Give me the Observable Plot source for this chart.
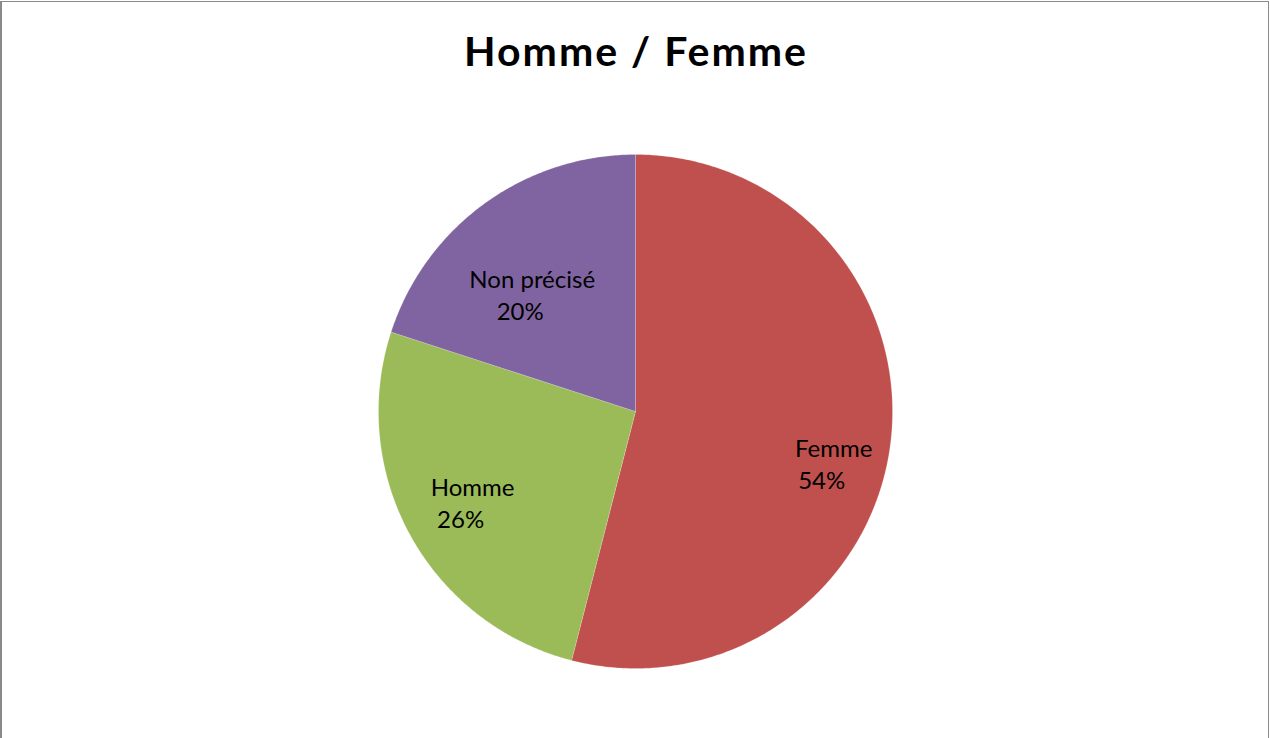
<!DOCTYPE html>
<html>
<head>
<meta charset="utf-8">
<script src="https://cdn.jsdelivr.net/npm/d3@7"></script>
<script src="https://cdn.jsdelivr.net/npm/@observablehq/plot@0.6"></script>
<style>
  html, body { margin: 0; padding: 0; background: #fff; overflow: hidden; width: 1270px; height: 738px; }
  #frame { position: absolute; left: 0; top: 1px; width: 1269px; height: 760px; box-sizing: border-box;
           border: 1px solid #8a8a8a; border-left-width: 2px; border-bottom: none; }
  #title { position: absolute; left: 1px; top: 31px; width: 1270px; text-align: center;
           font: bold 41px Lato, "Open Sans", sans-serif; letter-spacing: 2px; line-height: 40px; color: #000; }
  #chart { position: absolute; left: 0; top: 100px; }
</style>
</head>
<body>
<div id="frame"></div>
<div id="title">Homme / Femme</div>
<div id="chart"></div>
<script>
// ---- data ----
const categories = ["Femme", "Homme", "Non précisé"];
const values = [54, 26, 20];
const colors = ["#C0504D", "#9BBB59", "#8064A2"];

// ---- layout ----
const W = 1270, H = 638, CX = 635, CY = 311, R = 257;
// per-label pixel nudges (Excel "best fit" placement)
const labelNudge = { "Femme": [7, 30], "Homme": [6, 0], "Non précisé": [10, 41] };

const total = d3.sum(values);
let acc = 0;
const slices = categories.map((c, i) => {
  const a0 = acc / total * 2 * Math.PI;
  acc += values[i];
  const a1 = acc / total * 2 * Math.PI;
  return { category: c, value: values[i], a0, a1 };
});

// polygon outline of each slice on the unit circle (angles from the values)
const pts = [];
for (const s of slices) {
  pts.push({ category: s.category, x: 0, y: 0 });
  const n = Math.max(2, Math.ceil((s.a1 - s.a0) / (Math.PI / 360)));
  for (let k = 0; k <= n; k++) {
    const a = s.a0 + (s.a1 - s.a0) * k / n;
    pts.push({ category: s.category, x: Math.sin(a), y: Math.cos(a) });
  }
  pts.push({ category: s.category, x: 0, y: 0 });
}

const labels = slices.map(s => {
  const m = (s.a0 + s.a1) / 2;
  const [nx, ny] = labelNudge[s.category];
  return {
    category: s.category, value: s.value,
    x: 0.75 * Math.sin(m) + nx / R,
    y: 0.75 * Math.cos(m) - ny / R
  };
});

const font = "Lato, 'Open Sans', sans-serif";
const chart = Plot.plot({
  width: W, height: H, margin: 0,
  style: { background: "transparent", overflow: "visible", maxWidth: "none" },
  x: { domain: [-1, 1], range: [CX - R, CX + R], axis: null },
  y: { domain: [-1, 1], range: [CY + R, CY - R], axis: null },
  color: { domain: categories, range: colors },
  marks: [
    Plot.line(pts, { x: "x", y: "y", z: "category", fill: "category", stroke: "#ffffff", strokeWidth: 0.5, strokeOpacity: 0.35, curve: "linear" }),
    Plot.text(labels, { x: "x", y: "y", text: "category", dy: -16, fill: "#000", fontSize: 24, fontFamily: font }),
    Plot.text(labels, { x: "x", y: "y", text: d => d.value + "%", dy: 16, dx: -12, fill: "#000", fontSize: 24, fontFamily: font })
  ]
});
document.getElementById("chart").appendChild(chart);
</script>
</body>
</html>
